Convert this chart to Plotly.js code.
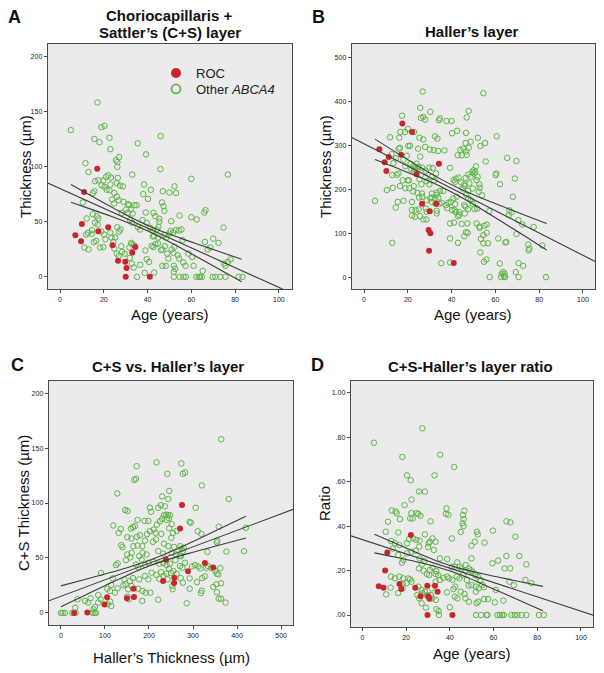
<!DOCTYPE html>
<html>
<head>
<meta charset="utf-8">
<script src="https://cdn.plot.ly/plotly-3.0.1.min.js"></script>
<style>html,body{margin:0;padding:0;background:#fff;}#chart{width:604px;height:673px;}</style>
</head>
<body>
<div id="chart"></div>
<script>
// ---------- DATA ----------
// Panel A: C+S thickness (µm) vs age (years)  [age, thickness]
const otherA = [[17.1,158],[4.9,133],[18.9,135.6],[20.3,136.8],[15.7,125],[18,122],[22.6,126],[35.5,121],[46,127.5],[23,115.7],[39.3,111],[11.6,103],[13,95],[25.5,105.7],[26.2,104],[26.2,99.7],[27,108.5],[45.9,97.6],[33,92.7],[60,88.8],[76.7,92.7],[16,86.7],[17.5,87.6],[19.8,87.3],[21,90.6],[22,92],[23.3,90],[23,83.7],[26.4,89.7],[25.9,85],[27.4,82.8],[28.7,82],[38.4,83.7],[41.5,78.9],[52.3,82],[47,77.6],[50,76.4],[53,76],[66.5,60.4],[65.9,58.3],[60,54],[62.5,52],[74.7,44.7],[15.7,77.6],[15,75.8],[19,83],[20.3,81.6],[21.3,79],[22.6,78.5],[24.8,76],[26,72.5],[26.8,69.5],[23.8,70],[24.7,66.5],[29,68],[31,65.9],[31.6,65],[34,65],[35,65],[38,75],[40.2,70.7],[39.2,58.3],[42.7,58],[43.5,55],[54.6,55.6],[47.7,59.8],[45.4,52.6],[45.4,50],[10.4,67.4],[12.2,52.9],[15,56.8],[16.8,55],[17.5,52.9],[16,49],[17.2,47.4],[14.6,42.3],[14.5,39],[12.8,40],[11.9,38.4],[11.1,26.6],[13,24.8],[15.5,31.4],[16.5,32.6],[18.9,41],[20.1,38.4],[20.7,34],[18.3,26.6],[19.8,27],[23,40],[23.5,35.6],[25.2,35.6],[24.4,31.7],[26.2,45],[27,41],[27.6,43],[28.2,58],[30.2,61],[31,58],[32.3,61],[33.2,57.4],[32,51.4],[32.9,49],[24.8,25.7],[25.9,21],[26.8,19],[28,27.8],[28.4,22.7],[29.6,21],[31.7,26.6],[32.5,30.8],[33,29.6],[33.8,28.7],[31.9,17.2],[32.8,12],[33.7,8.5],[35.2,0],[36.6,11],[39,23.9],[38.7,3.6],[39.6,16],[40.7,13.6],[41.9,28],[42.7,27],[43.6,29.6],[44.8,30.2],[43,3.9],[41.2,44.4],[42.4,42.3],[44.2,42.9],[45,45.3],[46.2,24.2],[46.8,24.8],[47.9,27.8],[46.8,10],[48.3,10],[47.7,38],[48.6,35.6],[50,39.3],[50.5,41.7],[51.7,40.2],[50.8,50.4],[52.9,42.3],[54.4,42],[55.5,42.9],[51,24.8],[52.3,27.2],[51.8,21.8],[52,10],[52.6,7.3],[52,4.5],[52,0],[53.8,19.6],[54.4,16.6],[56,33.2],[56.3,13],[57.3,10],[56.4,0],[57.5,0],[54.6,0],[60.4,18],[61,10],[62.3,0],[63.4,0],[64,0],[64.8,0],[65.2,5.4],[66.2,31.7],[67.5,24.8],[68.6,26.6],[70,34.7],[72.4,30.8],[69.8,0],[71,0],[73.2,0],[75.6,0],[75.6,10],[75,12],[76.7,13.6],[77.9,15.7],[81.6,0],[83.4,0],[43,37],[44.8,35.6],[35.5,45.3],[36.6,42.9],[39.6,49],[37.7,51.4],[47.3,64],[46.6,67.4],[42.4,36.6],[49,21],[49.5,16.6],[58.7,21]];
const rocA = [[17,98],[11,77],[10,48],[7,37.7],[9.6,32.3],[17.5,41.3],[22,45],[24,28.7],[26.5,14.5],[29.8,13.6],[30.4,8],[30,0],[34.4,27],[33,22],[41,0]];
const fitA_x = [-6,106], fitA_y = [85.4,-14.9];
const ciA_x = [5,15,25,35,45,55,65,75,83];
const ciA_hi = [83.6,72.5,61.6,51.3,42.5,35.1,28.2,21.3,15.9];
const ciA_lo = [67.6,60.7,53.7,46.1,36.9,26.4,15.5,4.4,-4.5];

// Panel B: Haller's thickness (µm) vs age
const otherB = [[26.8,422],[54.5,418],[25.7,385],[30.3,376],[27.1,364],[27.9,358],[26,362],[17.4,367],[34.2,357],[34.7,361],[37.7,355],[40,355],[47.8,378],[46.9,363],[42.5,332.6],[40.2,327],[46.6,328],[60.6,320],[52,317],[55.3,305],[53.1,298],[20,337],[18.7,330],[22.8,330],[16.6,330],[16.1,317],[11.9,318],[25.3,317],[27.1,313],[32.4,320],[33.5,315],[20.2,298.5],[21,298.5],[15.8,292],[16.4,294],[24.7,292],[27.9,296],[30.1,290],[31.8,288.6],[33.8,287],[36.7,288],[44,289],[45.4,292],[46.6,285.6],[47.8,294],[46.9,278],[44.6,277],[42.8,277],[48.7,308],[46.4,305],[65.4,271],[69.6,264],[55.6,263],[12.6,279.5],[14.5,270],[13.4,259],[19.5,275.8],[18,267],[18.9,252],[21.3,258],[22.5,252],[23.3,247],[24,258],[25.7,274],[25,251],[21.6,245],[22.8,242],[24,243],[26.5,249],[28.2,242],[29.8,249],[31.4,247.7],[32.9,235.6],[30.9,228],[39.3,248.5],[12.9,232],[14.9,232.6],[15.7,235.6],[17.7,220],[19.9,220],[20.5,220],[18.9,202],[20.7,202],[22.7,207],[10.4,198],[13.1,203],[16.4,207],[25.3,222.7],[28,227],[28.6,218],[26.2,211],[29.8,211],[32.1,219.7],[22.4,194.7],[24.4,191.7],[26.5,190],[31,190],[33.2,192.4],[34.7,195.5],[30.3,179],[32.4,179],[33.2,187],[33.9,181],[28.6,175],[30.9,171],[32.6,167],[34.4,167],[25.1,181],[26.6,182.6],[15.4,171],[14.5,158],[18,173.5],[5,173.5],[21.9,171],[21.9,153],[21.9,140],[23.3,137],[23.6,152],[25,154],[25.6,138.6],[27.1,131],[28.5,131],[33.2,150.8],[33.2,144.7],[35.5,169],[37.4,163.6],[38.5,169],[39.6,171],[40.8,179],[42.3,182.6],[41.6,166],[38,157],[41.4,152],[42.9,138.6],[43.5,147.7],[40.9,220.5],[42,224],[41.6,216.7],[43.2,226.5],[44.4,215],[45.8,211],[48.1,213],[45,201.5],[46,207],[47.6,196],[49.6,201.5],[50,243],[49.5,239],[50.2,235.6],[50.8,239],[51.1,252],[48.7,228],[51.9,228],[51.4,220.5],[47.6,233],[46.4,225.7],[52.7,210.6],[52.8,203],[52.4,194],[53.9,186],[46.7,188],[47.6,179],[48.7,175],[45.8,163.6],[46.4,160],[47.5,154.5],[49.6,167],[50.4,155],[51.7,156],[46,144.7],[43.5,141.7],[42,147.7],[41.1,124],[39.3,122],[44.6,121],[47.2,122],[46.6,102],[45.8,93],[47.3,100.8],[42.9,78],[39.3,88],[28.3,156],[28.6,148.5],[12.9,78],[35.3,31.8],[39.3,33.3],[52.7,115],[52.8,112],[51.4,122],[55,117],[56,119.7],[56,100.8],[54.5,95.5],[53.4,87],[54.5,77],[56.6,77],[53.1,56],[55.9,40],[54.8,35],[57.4,0],[62,31],[61.3,88],[65,80],[64.5,78.8],[57.2,150],[60.1,232],[60.4,235.6],[62.1,211],[68.9,224],[68,182.6],[66.4,152],[67.3,147],[66.1,141],[70.5,129.5],[72.3,119.7],[69.6,97.7],[62.9,7.6],[63.9,2.3],[63.6,11.4],[64.2,7.6],[62.6,0],[64.4,0],[69.3,11.4],[70.6,0],[70.6,31.8],[72.7,25.8],[75,74],[75.5,65],[75.2,61],[77.5,114],[81.4,72],[83.1,0],[30.9,181],[36.2,196],[40.2,152]];
const rocB = [[17.5,349],[21.9,330],[7,291],[9.4,261],[11.3,273],[10.2,241],[16.9,278],[24,234],[34.2,258],[26.5,167],[33,167],[30,150],[29.5,107],[30.3,100],[29.7,60],[41,32]];
const fitB_x = [-6,106], fitB_y = [318.4,34.4];
const ciB_x = [5,15,25,35,45,55,65,75,83.4];
const ciB_hi = [313.7,282.5,251.7,222.8,198.1,176.9,157.2,137.8,121.7];
const ciB_lo = [267.3,247.9,227.9,206.1,180.1,150.5,119.6,88.2,61.8];

// Panel C: C+S thickness vs Haller's thickness  [haller, cs]
const otherC = [[364,158],[217,137],[273.5,136],[172,133.5],[241.7,126.5],[277,126.6],[282,127.8],[166.7,121],[170.5,122],[320,116],[128,108.7],[246,111],[244,103.6],[230,106],[381,103.6],[146,93.6],[151.5,92.7],[202,95.7],[205,92],[221,95.7],[227,98],[236,97],[306,95.7],[234,88.8],[238.6,89.4],[243,89],[247.7,88.8],[230,85.5],[240,84.6],[245.5,86],[174,84.6],[190,83.7],[198.5,83.7],[225,83.4],[218,80.4],[292,82.8],[295,82],[119,79.5],[131,72.8],[136,76.4],[159,76.7],[163.6,78],[168,78.9],[150.8,68.9],[160,67.7],[172.7,69.2],[179.5,70.7],[195.5,71.6],[202,74.3],[210.6,75.8],[215,72.8],[228,71.9],[246,77],[251.5,80.7],[254.5,72.8],[263,74.6],[250.7,68.3],[319,72],[310.6,74.3],[358.3,78.5],[137,61.6],[140,59.8],[164.4,60.7],[174,61.3],[185,60.7],[191,65.8],[209,64.7],[216,66.8],[234,63],[244,60.7],[257,60],[271,60.7],[274,58.3],[355,65.8],[353.8,64.3],[150.8,53.2],[160.6,54.7],[178,51.7],[185.6,54.7],[194.7,53.2],[221,56.2],[232.6,54],[251.5,54.7],[261.4,53.2],[269.7,51.7],[278.8,59.2],[277,56.2],[272.7,51.7],[375.8,55.8],[332.6,55.6],[416,56.2],[125,43.5],[128.8,45],[91,36.3],[147.7,48],[157.6,50.5],[170.5,44],[175.8,41.7],[183.3,48.6],[191.7,43.5],[198.5,45.6],[209.8,46.5],[223.5,44.7],[232.6,45.3],[240,43.5],[247.7,44.7],[259.8,48],[245.5,40.2],[270.5,42.6],[275.8,41],[281.8,45.6],[297.7,42.3],[304.5,43.5],[312,42.3],[316.7,40.5],[330.3,41],[334,42.6],[341.7,40.8],[350.8,38],[353.8,35.6],[118,31.4],[114.4,25.4],[144,30.5],[141.7,25],[156.8,29],[163.6,31.7],[178,30.5],[191,33.6],[198.5,30.5],[206,36.6],[217,34.7],[223.5,31],[227,37],[233,33.6],[239.4,35.6],[242.4,30.5],[250,36.3],[255.3,38],[262.8,35.6],[272,31.7],[277,27.5],[292.4,31.4],[309,28],[321,31.7],[327,33.2],[362,40.8],[357.6,35],[363.6,26.9],[346,23.6],[353,26],[354.5,18.8],[358.3,13],[363.6,13],[374,9.4],[285.6,8.8],[221,12],[184.8,10.9],[253.8,21.5],[253,24.5],[292.4,22],[319.7,20.2],[318,18],[192.4,18.4],[203,18.4],[185.6,20],[175.8,22],[147,26],[153,21.5],[160.6,24.5],[150.8,14.8],[154.5,12.4],[122.7,18.4],[128.8,22.4],[105.3,22],[111.4,20],[84.8,16.3],[90,12.4],[84.8,9.4],[112,10.3],[106,7.9],[114.4,6.3],[54.5,10.9],[62,9.4],[67.4,13.3],[77.3,5.4],[74,3.4],[32.6,4.8],[37.9,12.4],[0,0],[3.8,0],[9,0],[25.8,0],[33.3,0],[72,0],[76.5,0],[79.5,0],[420,77.4]];
const rocC = [[275,98.2],[270.5,76.8],[238.6,48.4],[327,45.3],[346,41.4],[288.6,37.8],[257.6,32],[257,27.2],[232,29],[165,22],[166,14.5],[150,13.3],[105,14.2],[99,7.6],[60,0.3],[30,0]];
const fitC_x = [-30,530], fitC_y = [10.6,94.6];
const ciC_x = [0,50,100,150,200,250,300,350,420];
const ciC_hi = [24.6,30.0,35.4,41.1,47.6,55.8,65.0,74.5,88.0];
const ciC_lo = [5.6,15.2,24.8,34.1,42.6,49.4,55.2,60.7,68.2];

// Panel D: C+S / Haller's ratio vs age
const otherD = [[27.4,.841],[5.3,.776],[18.3,.712],[35.6,.722],[42,.667],[20.4,.629],[22.1,.607],[33,.629],[25.9,.556],[28.6,.556],[22.5,.520],[19.3,.495],[13.4,.471],[15.2,.467],[15.7,.458],[17.2,.432],[22.4,.459],[21.9,.435],[23,.435],[24.8,.459],[25.6,.455],[26.6,.447],[31.2,.422],[11.7,.420],[38.5,.480],[38.2,.456],[39.3,.452],[46.7,.470],[46,.450],[46.3,.432],[45.8,.413],[46.3,.401],[45,.374],[65.9,.422],[67.7,.417],[59.7,.380],[52.4,.375],[52.8,.363],[55.9,.326],[70,.353],[40.9,.345],[10.7,.375],[16.4,.372],[13.1,.333],[14.9,.323],[16.9,.315],[13.9,.299],[20.4,.323],[21.4,.342],[23.3,.345],[24.7,.338],[26.2,.335],[28.6,.363],[30.3,.323],[30.9,.330],[32.1,.345],[33.5,.330],[30.1,.306],[32.7,.293],[26,.308],[20.4,.278],[22.5,.285],[24.4,.290],[16.4,.270],[18.7,.248],[18.1,.236],[26.2,.255],[28.3,.243],[27.2,.228],[38.8,.252],[35.5,.255],[25.9,.210],[28,.2],[29.5,.185],[30.9,.203],[32.1,.213],[33.8,.198],[13.1,.173],[14.9,.165],[16.9,.173],[18.7,.165],[21,.165],[21.9,.161],[22.5,.150],[20.2,.143],[18.4,.140],[12.9,.123],[10.9,.093],[16.4,.099],[18.4,.120],[25.6,.128],[27.1,.113],[27.5,.098],[25.1,.090],[26,.075],[27.1,.053],[29.1,.033],[31.4,.090],[32,.075],[33.6,.068],[33.9,.026],[35,0],[30.6,.180],[33.5,.185],[34.7,.179],[37.1,.167],[38.8,.173],[39.7,.165],[38.7,.102],[40,.035],[40.9,.216],[42.3,.218],[44.6,.218],[41.2,.158],[42.5,.128],[41.7,.117],[43.2,.173],[44.4,.165],[46.1,.180],[47.3,.225],[48.7,.210],[49.6,.201],[47.8,.158],[48.6,.132],[49.9,.135],[42.3,.083],[43.5,.075],[45,.105],[46.7,.095],[47.2,.075],[48.7,.060],[49.9,.255],[50.4,.195],[51.6,.180],[52.8,.173],[54,.158],[51.9,.128],[53.1,.120],[54.8,.135],[53,.060],[52.2,.053],[51.9,.105],[55.7,.072],[57.5,.072],[60.6,.057],[64.5,.065],[61,.113],[55.6,.125],[59.5,.233],[62.1,.245],[65.1,.210],[67.6,.210],[65.9,.266],[71.8,.266],[75,.228],[67.3,.150],[69.3,.134],[74.6,.158],[77.3,.144],[52,0],[54.3,0],[56.8,0],[57.2,0],[61.8,0],[62.9,0],[63.9,0],[64.7,0],[68.2,0],[69.7,0],[70.9,0],[72.8,0],[75,0],[80.8,0],[83,0],[34.9,.018],[33.5,.150],[35.5,.158],[43.4,.237],[47.2,.201],[45.4,.209],[51.4,.330],[49.9,.312],[31.7,.120],[28.6,.105],[29.5,.090]];
const rocD = [[11.4,.282],[10.4,.201],[7.5,.129],[9.7,.123],[17,.140],[17.8,.117],[22.2,.360],[24.2,.123],[29.7,.132],[33.2,.132],[34.4,.105],[26.6,.084],[30.1,.084],[30.7,.073],[29.8,0],[41.2,0]];
const fitD_x = [-6,106], fitD_y = [0.359,-0.002];
const ciD_x = [5.5,15,25,35,45,55,65,75,82.6];
const ciD_hi = [.364,.323,.280,.240,.209,.186,.165,.144,.129];
const ciD_lo = [.280,.261,.239,.214,.181,.139,.096,.052,.019];

// tick labels
const ageTicks = [0,20,40,60,80,100];
const csTicks = [0,50,100,150,200];
const hallerTicks = [0,100,200,300,400,500];
const ratioTicks = [0,0.2,0.4,0.6,0.8,1.0];
const ratioTickText = ['.00','.20','.40','.60','.80','1.00'];

const seriesNames = ['ROC', 'Other <i>ABCA4</i>'];

// ---------- STYLE ----------
const FONT = 'Liberation Sans, Arial, Helvetica, sans-serif';
const GREEN = '#5cb545';
const RED = '#c9262b';
const LINE = '#3c3c3c';

const traces = [];
function addPanel(suffix, other, roc, fx, fy, cx, chi, clo) {
  const xa = 'x' + suffix, ya = 'y' + suffix;
  traces.push({type:'scatter', mode:'markers', xaxis:xa, yaxis:ya, showlegend:false, hoverinfo:'skip',
    x: other.map(p=>p[0]), y: other.map(p=>p[1]),
    marker:{symbol:'circle-open', size:5.5, color:GREEN, line:{width:1, color:GREEN}}});
  traces.push({type:'scatter', mode:'markers', xaxis:xa, yaxis:ya, showlegend:false, hoverinfo:'skip',
    x: roc.map(p=>p[0]), y: roc.map(p=>p[1]),
    marker:{symbol:'circle', size:6, color:RED}});
  traces.push({type:'scatter', mode:'lines', xaxis:xa, yaxis:ya, showlegend:false, hoverinfo:'skip',
    x: fx, y: fy, line:{color:LINE, width:1.1}});
  traces.push({type:'scatter', mode:'lines', xaxis:xa, yaxis:ya, showlegend:false, hoverinfo:'skip',
    x: cx, y: chi, line:{color:LINE, width:1.1, shape:'spline'}});
  traces.push({type:'scatter', mode:'lines', xaxis:xa, yaxis:ya, showlegend:false, hoverinfo:'skip',
    x: cx, y: clo, line:{color:LINE, width:1.1, shape:'spline'}});
}
addPanel('', otherA, rocA, fitA_x, fitA_y, ciA_x, ciA_hi, ciA_lo);
addPanel('2', otherB, rocB, fitB_x, fitB_y, ciB_x, ciB_hi, ciB_lo);
addPanel('3', otherC, rocC, fitC_x, fitC_y, ciC_x, ciC_hi, ciC_lo);
addPanel('4', otherD, rocD, fitD_x, fitD_y, ciD_x, ciD_hi, ciD_lo);

// legend entries (panel A)
traces.push({type:'scatter', mode:'markers', xaxis:'x', yaxis:'y', name:seriesNames[0], legend:'legend',
  x:[null], y:[null], marker:{symbol:'circle', size:10, color:RED}});
traces.push({type:'scatter', mode:'markers', xaxis:'x', yaxis:'y', name:seriesNames[1], legend:'legend2',
  x:[null], y:[null], marker:{symbol:'circle-open', size:9, color:GREEN, line:{width:1.8, color:GREEN}}});

const W = 604, H = 673;
const px = v => v / W, py = v => 1 - v / H;

function axis(domain, range, anchor, extra) {
  return Object.assign({
    domain: domain, range: range, anchor: anchor, autorange: false,
    showline: true, mirror: true, linecolor: '#4a4a4a', linewidth: 1.3,
    ticks: 'outside', ticklen: 3, tickwidth: 1, tickcolor: '#4a4a4a',
    tickfont: {family: FONT, size: 7, color: '#222'},
    showgrid: false, zeroline: false, fixedrange: true
  }, extra);
}

const xDomA = [px(48), px(292)], xDomB = [px(352), px(595)];
const xDomC = [px(49), px(293)], xDomD = [px(351), px(593)];
const yDomTop = [py(289), py(44)];
const yDomC = [py(625), py(381)], yDomD = [py(627), py(381)];

function ann(text, x, y, size, bold, angle) {
  return {text: bold ? '<b>' + text + '</b>' : text, x: px(x), y: py(y), xref: 'paper', yref: 'paper',
    xanchor: 'center', yanchor: 'middle', showarrow: false, textangle: angle || 0,
    font: {family: FONT, size: size, color: '#111'}};
}

const layout = {
  width: W, height: H,
  margin: {l: 0, r: 0, t: 0, b: 0},
  paper_bgcolor: '#ffffff',
  plot_bgcolor: '#ebebeb',
  font: {family: FONT, color: '#111'},
  xaxis: axis(xDomA, [-5.5, 106], 'y', {tickmode:'array', tickvals: ageTicks}),
  yaxis: axis(yDomTop, [-11, 211], 'x', {tickmode:'array', tickvals: csTicks}),
  xaxis2: axis(xDomB, [-5.5, 105.5], 'y2', {tickmode:'array', tickvals: ageTicks}),
  yaxis2: axis(yDomTop, [-27, 530], 'x2', {tickmode:'array', tickvals: hallerTicks}),
  xaxis3: axis(xDomC, [-27, 527], 'y3', {tickmode:'array', tickvals: hallerTicks}),
  yaxis3: axis(yDomC, [-11, 211], 'x3', {tickmode:'array', tickvals: csTicks}),
  xaxis4: axis(xDomD, [-5.2, 105.5], 'y4', {tickmode:'array', tickvals: ageTicks}),
  yaxis4: axis(yDomD, [-0.054, 1.054], 'x4', {tickmode:'array', tickvals: ratioTicks, ticktext: ratioTickText}),
  legend: {x: px(156), y: py(73), xanchor: 'left', yanchor: 'middle', bgcolor: 'rgba(0,0,0,0)',
    borderwidth: 0, font: {family: FONT, size: 13, color: '#222'}},
  legend2: {x: px(156), y: py(89), xanchor: 'left', yanchor: 'middle', bgcolor: 'rgba(0,0,0,0)',
    borderwidth: 0, font: {family: FONT, size: 13, color: '#222'}},
  annotations: [
    ann('A', 14, 17, 18, true),
    ann('Choriocapillaris +', 169, 15, 15, true),
    ann('Sattler’s (C+S) layer', 170, 32, 15, true),
    ann('B', 318, 17, 18, true),
    ann('Haller’s layer', 472, 31, 15, true),
    ann('C', 17, 365, 18, true),
    ann('C+S vs. Haller’s layer', 168, 367, 15, true),
    ann('D', 317, 365, 18, true),
    ann('C+S-Haller’s layer ratio', 470, 367, 15, true),
    ann('Thickness (µm)', 25, 167, 15, false, -90),
    ann('Age (years)', 170, 314, 15, false),
    ann('Thickness (µm)', 325, 167, 15, false, -90),
    ann('Age (years)', 473, 314, 15, false),
    ann('C+S Thickness (µm)', 23, 503, 15, false, -90),
    ann('Haller’s Thickness (µm)', 171, 657, 15, false),
    ann('Ratio', 324, 504, 15, false, -90),
    ann('Age (years)', 472, 653, 15, false)
  ]
};

Plotly.newPlot('chart', traces, layout, {staticPlot: true, displayModeBar: false});
</script>
</body>
</html>
